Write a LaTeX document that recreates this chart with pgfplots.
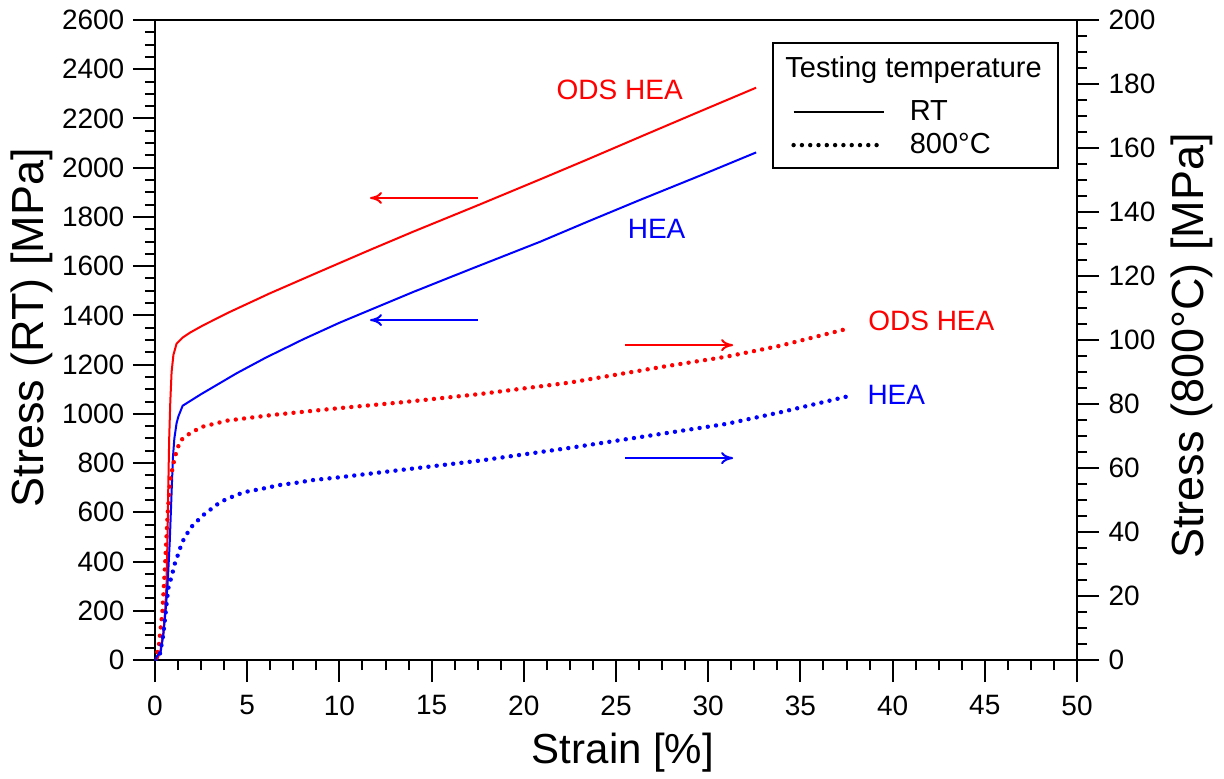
\documentclass[border=0pt]{standalone}
\usepackage{fontspec}
\setmainfont{Liberation Sans}
\usepackage{pgfplots}
\pgfplotsset{compat=1.18}
\usetikzlibrary{arrows.meta}

\pgfplotstableread{
x y
0 0
0.15 8
0.3 40
0.45 110
0.55 200
0.62 300
0.68 500
0.72 700
0.77 900
0.83 1050
0.9 1170
1.0 1240
1.17 1285
1.5 1310
1.9 1330
2.62 1360
4 1412
6.24 1490
9 1580
11.66 1666
14 1740
17.4 1844
20.9 1953
23.5 2035
26.3 2125
29.5 2227
32.6 2325
}\odsrt

\pgfplotstableread{
x y
0 0
0.1 15
0.2 25
0.3 30
0.45 100
0.6 220
0.7 330
0.8 480
0.9 680
0.97 820
1.05 900
1.17 962
1.27 990
1.5 1033
2.5 1080
3.5 1124
4.43 1165
6 1228
8.04 1303
10 1370
11.66 1422
14 1495
17.08 1587
20.88 1699
23.5 1782
26.3 1869
29.5 1966
32.6 2062
}\hears

\pgfplotstableread{
x y
0 0
0.2 4
0.4 15
0.55 30
0.68 45
0.81 56
0.9 58.5
1.08 63.5
1.36 68.5
1.81 70.5
2.5 72.8
3.9 74.8
6.4 76.6
9.8 78.6
13.5 80.6
17.6 83.1
22.5 86.7
27.6 91.7
31 94.8
33.9 98.2
37.4 103.3
}\odsht

\pgfplotstableread{
x y
0 0
0.27 2
0.45 8
0.6 16
0.72 22.4
0.94 27
1.08 30.2
1.21 32.3
1.36 34.9
1.54 37.5
1.75 39.6
1.99 41.7
2.3 43.5
2.62 45.3
2.98 46.9
3.34 48.5
3.7 49.8
4.1 50.8
4.52 51.8
4.97 52.6
5.88 53.6
6.78 54.7
7.68 55.4
8.59 56.25
9.85 57.0
13.5 59.5
17.6 62.3
22.5 66.3
27.6 70.8
31 73.8
33.9 77.4
37.5 82.3
}\heaht

\tikzset{dotline/.style={line width=2.2pt, dash pattern=on 0pt off 4.15pt, line cap=round}}
\pgfplotsset{
  common/.style={
    scale only axis, width=461pt, height=320pt,
    xmin=0, xmax=50,
    tick align=outside,
    major tick length=11pt, minor tick length=5pt,
    tick style={line width=1pt, black},
    axis line style={line width=1pt},
    /pgf/number format/assume math mode=true,
    /pgf/number format/1000 sep={},
    scaled ticks=false,
    ticklabel style={font=\fontsize{14}{17}\selectfont},
  }
}

\begin{document}
\begin{tikzpicture}
\useasboundingbox (-77.5pt,-59pt) rectangle (534.5pt,330pt);
\begin{axis}[common,
  ymin=0, ymax=2600,
  xtick distance=5, ytick distance=200,
  minor x tick num=3, minor y tick num=3,
  xtick pos=bottom, ytick pos=left,
  xticklabel style={yshift=-3.3pt},
  yticklabel style={xshift=-0.8pt},
  xlabel={Strain [\%]}, ylabel={Stress (RT) [MPa]},
  x label style={font=\fontsize{21}{25}\selectfont, at={(axis description cs:0.5076,0)}, anchor=base, yshift=-51.5pt},
  y label style={font=\fontsize{22.5}{27}\selectfont, at={(axis description cs:0,0.519)}, anchor=center, yshift=61.5pt},
  legend image code/.code={\draw[#1] (0pt,0pt) -- (45pt,0pt);},
  legend style={at={(axis description cs:0.6898,0.8745)}, anchor=north west,
    draw=none, fill=none, inner sep=0pt,
    column sep=12pt, row sep=4.9pt,
    nodes={inner sep=0pt, font=\fontsize{14.5}{17}\selectfont}},
  legend cell align=left,
]
\draw[line width=1pt, fill=white] (rel axis cs:0.6703,0.9641) rectangle (rel axis cs:0.9794,0.7688);
\node[anchor=base west, font=\fontsize{14.5}{17}\selectfont, inner sep=0pt] at (rel axis cs:0.6833,0.9105) {Testing temperature};

\addlegendimage{black, line width=1pt}
\addlegendentry{RT}
\addlegendimage{black, dotline}
\addlegendentry{800°C}

\addplot[red, line width=1pt, forget plot] table[x=x,y=y] {\odsrt};
\addplot[blue, line width=1pt, forget plot] table[x=x,y=y] {\hears};

\draw[red, line width=1pt, -{To[length=6pt,width=6pt]}] (axis cs:17.5,1877) -- (axis cs:11.66,1877);
\draw[blue, line width=1pt, -{To[length=6pt,width=6pt]}] (axis cs:17.5,1381) -- (axis cs:11.66,1381);
\node[red, font=\fontsize{14}{17}\selectfont] at (axis cs:25.2,2316) {ODS HEA};
\node[blue, font=\fontsize{14}{17}\selectfont] at (axis cs:27.2,1751) {HEA};
\end{axis}

\begin{axis}[common,
  ymin=0, ymax=200,
  axis x line=none, axis y line*=right,
  ytick distance=20, minor y tick num=3,
  yticklabel style={xshift=1.3pt},
  ylabel={Stress (800°C) [MPa]},
  y label style={font=\fontsize{22.5}{27}\selectfont, at={(axis description cs:1,0.491)}, anchor=center, yshift=-57.5pt},
]
\addplot[red, dotline, forget plot] table[x=x,y=y] {\odsht};
\addplot[blue, dotline, forget plot] table[x=x,y=y] {\heaht};

\draw[red, line width=1pt, -{To[length=6pt,width=6pt]}] (axis cs:25.5,98.4) -- (axis cs:31.35,98.4);
\draw[blue, line width=1pt, -{To[length=6pt,width=6pt]}] (axis cs:25.5,63.1) -- (axis cs:31.35,63.1);
\node[red, font=\fontsize{14}{17}\selectfont] at (axis cs:42.1,105.9) {ODS HEA};
\node[blue, font=\fontsize{14}{17}\selectfont] at (axis cs:40.2,82.8) {HEA};
\end{axis}
\end{tikzpicture}
\end{document}
